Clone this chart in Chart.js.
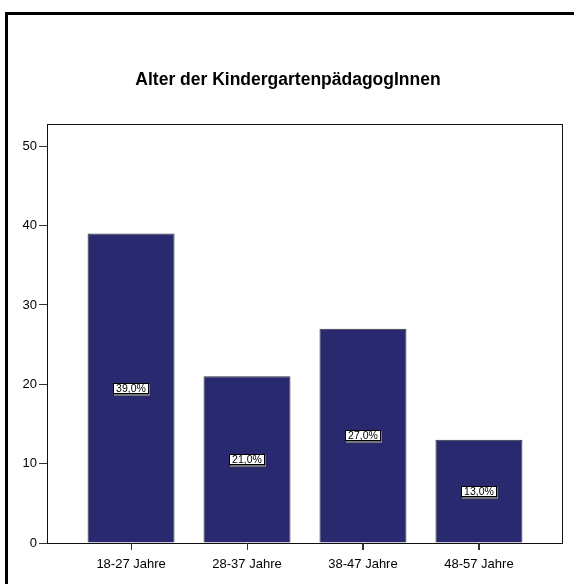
<!DOCTYPE html>
<html>
<head>
<meta charset="utf-8">
<script src="https://cdn.jsdelivr.net/npm/chart.js@4/dist/chart.umd.min.js"></script>
<style>
  html, body { margin: 0; padding: 0; background: #fff; }
</style>
</head>
<body>
<canvas id="chart" width="574" height="584"></canvas>
<script>
// Chart data
const chartTitle = 'Alter der KindergartenpädagogInnen';
const categories = ['18-27 Jahre', '28-37 Jahre', '38-47 Jahre', '48-57 Jahre'];
const counts = [39, 21, 27, 13];
const yTicks = [0, 10, 20, 30, 40, 50];

const total = counts.reduce((a, b) => a + b, 0);
const font = 'Arial, "Liberation Sans", sans-serif';

// Outer frame and title
const framePlugin = {
    id: 'frame',
    beforeDraw(chart) {
        const ctx = chart.ctx;
        ctx.save();
        ctx.fillStyle = '#fff';
        ctx.fillRect(0, 0, chart.width, chart.height);
        ctx.strokeStyle = '#000';
        ctx.lineWidth = 3;
        ctx.strokeRect(6.5, 13.5, 700, 700);
        ctx.fillStyle = '#000';
        ctx.font = 'bold 17.5px ' + font;
        ctx.textAlign = 'center';
        ctx.textBaseline = 'middle';
        ctx.fillText(chartTitle, 288, 80);
        ctx.restore();
    },
    afterDraw(chart) {
        // box around the plot area
        const a = chart.chartArea;
        const ctx = chart.ctx;
        ctx.save();
        ctx.strokeStyle = '#111';
        ctx.lineWidth = 1;
        ctx.strokeRect(a.left + 0.5, a.top + 0.5, a.right - a.left - 1, a.bottom - a.top);
        // tick marks under the category labels
        const xs = chart.scales.x;
        ctx.strokeStyle = '#333';
        ctx.beginPath();
        categories.forEach((c, i) => {
            const px = Math.round(xs.getPixelForValue(i)) + 0.5;
            ctx.moveTo(px, a.bottom);
            ctx.lineTo(px, a.bottom + 7);
        });
        ctx.stroke();
        ctx.restore();
    }
};

// Percentage labels in the middle of each bar
const percentPlugin = {
    id: 'percent',
    afterDatasetsDraw(chart) {
        const ctx = chart.ctx;
        const meta = chart.getDatasetMeta(0);
        ctx.save();
        ctx.font = '10.5px ' + font;
        ctx.textAlign = 'center';
        ctx.textBaseline = 'middle';
        meta.data.forEach((bar, i) => {
            const txt = (counts[i] / total * 100).toFixed(1).replace('.', ',') + '%';
            const w = Math.round(ctx.measureText(txt).width + 6);
            const h = 11;
            const cy = (bar.y + bar.base) / 2;
            const x0 = Math.round(bar.x - w / 2);
            const y0 = Math.round(cy - h / 2);
            ctx.fillStyle = '#777';
            ctx.fillRect(x0 + 1, y0 + 1, w, h + 1);
            ctx.fillStyle = '#fff';
            ctx.fillRect(x0, y0, w, h);
            ctx.strokeStyle = '#000';
            ctx.lineWidth = 1;
            ctx.strokeRect(x0 + 0.5, y0 + 0.5, w - 1, h - 1);
            ctx.fillStyle = '#000';
            ctx.fillText(txt, x0 + w / 2, y0 + h / 2 + 0.5);
        });
        ctx.restore();
    }
};

new Chart(document.getElementById('chart'), {
    type: 'bar',
    data: {
        datasets: [{
            data: counts.map((v, i) => ({ x: i, y: v })),
            backgroundColor: '#29296f',
            borderColor: '#333',
            borderWidth: 1,
            barPercentage: 0.75,
            categoryPercentage: 1
        }]
    },
    options: {
        responsive: false,
        animation: false,
        layout: { padding: { top: 124, right: 11, bottom: 0, left: 0 } },
        plugins: {
            legend: { display: false },
            tooltip: { enabled: false }
        },
        scales: {
            x: {
                type: 'linear',
                min: -0.725,
                max: 3.725,
                offset: false,
                afterBuildTicks: s => { s.ticks = categories.map((c, i) => ({ value: i })); },
                afterFit: s => { s.height = 41; },
                grid: { offset: false, drawOnChartArea: false, tickLength: 7, tickColor: '#333' },
                border: { display: false },
                ticks: {
                    padding: 7,
                    maxRotation: 0,
                    color: '#000',
                    font: { family: font, size: 13 },
                    callback: v => categories[v]
                }
            },
            y: {
                min: 0,
                max: 52.8,
                afterBuildTicks: s => { s.ticks = yTicks.map(v => ({ value: v })); },
                afterFit: s => { s.width = 47; },
                grid: { drawOnChartArea: false, tickLength: 8, tickColor: '#333' },
                border: { display: false },
                ticks: {
                    padding: 2,
                    color: '#000',
                    font: { family: font, size: 13 }
                }
            }
        }
    },
    plugins: [framePlugin, percentPlugin]
});
</script>
</body>
</html>
